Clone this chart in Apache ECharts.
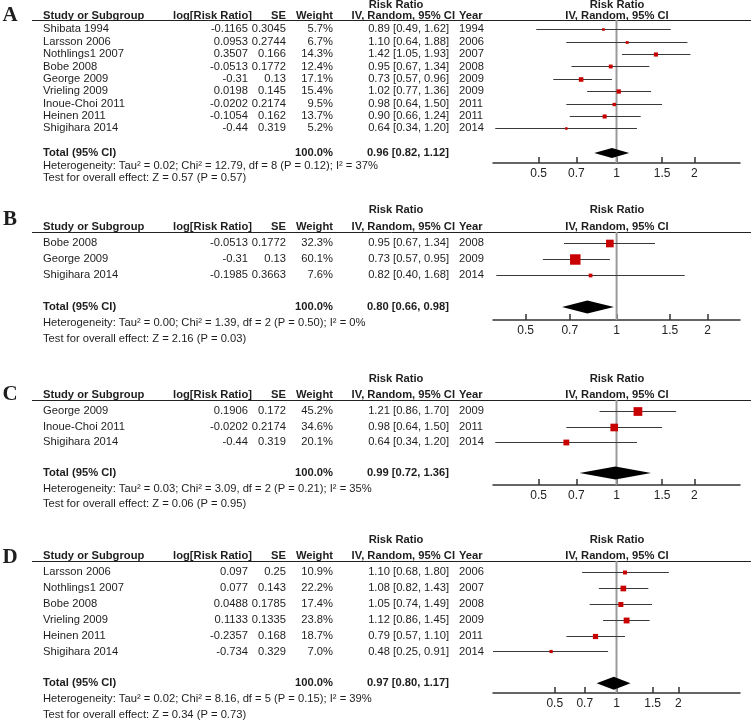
<!DOCTYPE html>
<html><head><meta charset="utf-8">
<script src="https://cdn.jsdelivr.net/npm/echarts@6/dist/echarts.min.js"></script>
<style>html,body{margin:0;padding:0;background:#fff}#c{width:751px;height:720px}</style>
</head><body><div id="c"></div>
<script>
// ---------- Panel A ----------
const studiesA = ['Shibata 1994','Larsson 2006','Nothlings1 2007','Bobe 2008','George 2009','Vrieling 2009','Inoue-Choi 2011','Heinen 2011','Shigihara 2014'];
const logRRA = [-0.1165,0.0953,0.3507,-0.0513,-0.31,0.0198,-0.0202,-0.1054,-0.44];
const seA = [0.3045,0.2744,0.166,0.1772,0.13,0.145,0.2174,0.162,0.319];
const weightA = [5.7,6.7,14.3,12.4,17.1,15.4,9.5,13.7,5.2];
const rrA = [0.89,1.10,1.42,0.95,0.73,1.02,0.98,0.90,0.64];
const loA = [0.49,0.64,1.05,0.67,0.57,0.77,0.64,0.66,0.34];
const hiA = [1.62,1.88,1.93,1.34,0.96,1.36,1.50,1.24,1.20];
const yearA = [1994,2006,2007,2008,2009,2009,2011,2011,2014];
const totalA = [0.96,0.82,1.12];
const hetA = 'Heterogeneity: Tau\u00b2 = 0.02; Chi\u00b2 = 12.79, df = 8 (P = 0.12); I\u00b2 = 37%';
const testA = 'Test for overall effect: Z = 0.57 (P = 0.57)';

// ---------- Panel B ----------
const studiesB = ['Bobe 2008','George 2009','Shigihara 2014'];
const logRRB = [-0.0513,-0.31,-0.1985];
const seB = [0.1772,0.13,0.3663];
const weightB = [32.3,60.1,7.6];
const rrB = [0.95,0.73,0.82];
const loB = [0.67,0.57,0.40];
const hiB = [1.34,0.95,1.68];
const yearB = [2008,2009,2014];
const totalB = [0.80,0.66,0.98];
const hetB = 'Heterogeneity: Tau\u00b2 = 0.00; Chi\u00b2 = 1.39, df = 2 (P = 0.50); I\u00b2 = 0%';
const testB = 'Test for overall effect: Z = 2.16 (P = 0.03)';

// ---------- Panel C ----------
const studiesC = ['George 2009','Inoue-Choi 2011','Shigihara 2014'];
const logRRC = [0.1906,-0.0202,-0.44];
const seC = [0.172,0.2174,0.319];
const weightC = [45.2,34.6,20.1];
const rrC = [1.21,0.98,0.64];
const loC = [0.86,0.64,0.34];
const hiC = [1.70,1.50,1.20];
const yearC = [2009,2011,2014];
const totalC = [0.99,0.72,1.36];
const hetC = 'Heterogeneity: Tau\u00b2 = 0.03; Chi\u00b2 = 3.09, df = 2 (P = 0.21); I\u00b2 = 35%';
const testC = 'Test for overall effect: Z = 0.06 (P = 0.95)';

// ---------- Panel D ----------
const studiesD = ['Larsson 2006','Nothlings1 2007','Bobe 2008','Vrieling 2009','Heinen 2011','Shigihara 2014'];
const logRRD = [0.097,0.077,0.0488,0.1133,-0.2357,-0.734];
const seD = [0.25,0.143,0.1785,0.1335,0.168,0.329];
const weightD = [10.9,22.2,17.4,23.8,18.7,7.0];
const rrD = [1.10,1.08,1.05,1.12,0.79,0.48];
const loD = [0.68,0.82,0.74,0.86,0.57,0.25];
const hiD = [1.80,1.43,1.49,1.45,1.10,0.91];
const yearD = [2006,2007,2008,2009,2011,2014];
const totalD = [0.97,0.80,1.17];
const hetD = 'Heterogeneity: Tau\u00b2 = 0.02; Chi\u00b2 = 8.16, df = 5 (P = 0.15); I\u00b2 = 39%';
const testD = 'Test for overall effect: Z = 0.34 (P = 0.73)';

// ---------- Axis ticks ----------
const tickVals = [0.5,0.7,1,1.5,2];
const tickLabels = ['0.5','0.7','1','1.5','2'];
const refValue = 1;

const panels = [
  {letter:'A', names:studiesA, lrr:logRRA, se:seA, w:weightA, rr:rrA, lo:loA, hi:hiA, yr:yearA, tot:totalA, het:hetA, test:testA},
  {letter:'B', names:studiesB, lrr:logRRB, se:seB, w:weightB, rr:rrB, lo:loB, hi:hiB, yr:yearB, tot:totalB, het:hetB, test:testB},
  {letter:'C', names:studiesC, lrr:logRRC, se:seC, w:weightC, rr:rrC, lo:loC, hi:hiC, yr:yearC, tot:totalC, het:hetC, test:testC},
  {letter:'D', names:studiesD, lrr:logRRD, se:seD, w:weightD, rr:rrD, lo:loD, hi:hiD, yr:yearD, tot:totalD, het:hetD, test:testD}
];
// layout (positions/sizes only)
const layout = [
  {top:20,  bottom:163, yMin:-0.75, yMax:10.8, xMin:1/3,  xMax:3,    k:1.1,  dh:5,   rrHead:15.5, studyHead:4.5, letterY:15.5},
  {top:232, bottom:320, yMin:-0.69, yMax:4.81, xMin:0.39, xMax:2.56, k:1.35, dh:6.5, rrHead:22,   studyHead:5.5, letterY:220},
  {top:400, bottom:485, yMin:-0.71, yMax:4.77, xMin:1/3,  xMax:3,    k:1.3,  dh:6.5, rrHead:21,   studyHead:5,   letterY:395},
  {top:561, bottom:693, yMin:-0.69, yMax:7.61, xMin:0.25, xMax:4,    k:1.2,  dh:6.5, rrHead:21,   studyHead:5,   letterY:557.5}
];
const PLOT_L = 493, PLOT_W = 247;
const L10 = Math.log10;
const FONT = '"Liberation Sans", Arial, sans-serif';
const TXT = '#1e1e1e';
const BODY = 11.2, HEAD = 11.2;

const chart = echarts.init(document.getElementById('c'), null, {renderer:'canvas'});

const grids = [], xAxes = [], yAxes = [], series = [];
panels.forEach((p, i) => {
  const L = layout[i];
  const n = p.names.length;
  const totalIdx = n + 1;
  grids.push({left:PLOT_L, width:PLOT_W, top:L.top, height:L.bottom - L.top});
  xAxes.push({
    type:'value', gridIndex:i, min:L10(L.xMin), max:L10(L.xMax), position:'bottom',
    splitLine:{show:false},
    axisLine:{show:true, onZero:false, lineStyle:{color:'#333', width:1.5}},
    axisTick:{show:true, inside:true, length:6, lineStyle:{color:'#333', width:1.5}, customValues:tickVals.map(L10)},
    axisLabel:{show:true, margin:5, fontSize:12, color:'#222', fontFamily:FONT, customValues:tickVals.map(L10),
      formatter:(v)=>{ const j = tickVals.findIndex(t=>Math.abs(L10(t)-v)<1e-6); return j>=0 ? tickLabels[j] : ''; }}
  });
  yAxes.push({type:'value', gridIndex:i, inverse:true, min:L.yMin, max:L.yMax, show:false});

  // reference line at RR = 1
  series.push({
    type:'custom', xAxisIndex:i, yAxisIndex:i, z:1, silent:true,
    data:[[L10(refValue)]], encode:{x:0},
    renderItem:(params, api)=>{
      const a = api.coord([api.value(0), L.yMin]);
      const b = api.coord([api.value(0), L.yMax]);
      return {type:'line', shape:{x1:a[0], y1:a[1], x2:b[0], y2:b[1]}, style:{stroke:'#9a9a9a', lineWidth:2}};
    }
  });
  // study CIs and squares
  series.push({
    type:'custom', xAxisIndex:i, yAxisIndex:i, z:3, clip:true, silent:true,
    encode:{x:[0,1,2], y:3},
    data:p.names.map((_, j)=>[L10(p.lo[j]), L10(p.hi[j]), L10(p.rr[j]), j, p.w[j]]),
    renderItem:(params, api)=>{
      const a = api.coord([api.value(0), api.value(3)]);
      const b = api.coord([api.value(1), api.value(3)]);
      const c = api.coord([api.value(2), api.value(3)]);
      const s = L.k * Math.sqrt(api.value(4));
      const y = Math.round(a[1]) + 0.5;
      return {type:'group', children:[
        {type:'line', shape:{x1:a[0], y1:y, x2:b[0], y2:y}, style:{stroke:'#3a3a3a', lineWidth:1}},
        {type:'rect', shape:{x:c[0]-s/2, y:y-s/2, width:s, height:s}, style:{fill:'#c80000'}}
      ]};
    }
  });
  // pooled diamond
  series.push({
    type:'custom', xAxisIndex:i, yAxisIndex:i, z:4, silent:true,
    encode:{x:[0,1,2], y:3},
    data:[[L10(p.tot[1]), L10(p.tot[2]), L10(p.tot[0]), totalIdx]],
    renderItem:(params, api)=>{
      const a = api.coord([api.value(0), api.value(3)]);
      const b = api.coord([api.value(1), api.value(3)]);
      const c = api.coord([api.value(2), api.value(3)]);
      return {type:'polygon', shape:{points:[[a[0],a[1]],[c[0],c[1]-L.dh],[b[0],b[1]],[c[0],c[1]+L.dh]]}, style:{fill:'#000'}};
    }
  });
});

chart.setOption({
  animation:false,
  grid:grids, xAxis:xAxes, yAxis:yAxes, series:series
});

// ---------- table text ----------
const els = [];
function txt(x, y, s, align, bold, size, fam){
  const f = (bold ? 'bold ' : '') + (size || (bold ? HEAD : BODY)) + 'px ' + (fam || FONT);
  els.push({type:'text', x:x, y:y, silent:true, style:{text:String(s), font:f, fill:TXT,
    textAlign:align, textVerticalAlign:'middle', align:align, verticalAlign:'middle'}});
}
const fmt = v => v.toFixed(2);
panels.forEach((p, i) => {
  const L = layout[i];
  const n = p.names.length;
  const rowY = idx => chart.convertToPixel({yAxisIndex:i}, idx);
  // letter
  txt(10, L.letterY, p.letter, 'center', true, 21, '"Liberation Serif", "Times New Roman", serif');
  // header
  const hy = L.top - L.studyHead, ry = L.top - L.rrHead;
  txt(396, ry, 'Risk Ratio', 'center', true);
  txt(617, ry, 'Risk Ratio', 'center', true);
  txt(43, hy, 'Study or Subgroup', 'left', true);
  txt(252, hy, 'log[Risk Ratio]', 'right', true);
  txt(286, hy, 'SE', 'right', true);
  txt(333, hy, 'Weight', 'right', true);
  txt(455, hy, 'IV, Random, 95% CI', 'right', true);
  txt(459, hy, 'Year', 'left', true);
  txt(617, hy, 'IV, Random, 95% CI', 'center', true);
  els.push({type:'line', silent:true, shape:{x1:32, y1:L.top+0.5, x2:751, y2:L.top+0.5}, style:{stroke:'#222', lineWidth:1}});
  // rows
  p.names.forEach((nm, j) => {
    const y = rowY(j);
    txt(43, y, nm, 'left');
    txt(248, y, p.lrr[j], 'right');
    txt(286, y, p.se[j], 'right');
    txt(333, y, p.w[j].toFixed(1) + '%', 'right');
    txt(449, y, fmt(p.rr[j]) + ' [' + fmt(p.lo[j]) + ', ' + fmt(p.hi[j]) + ']', 'right');
    txt(459, y, p.yr[j], 'left');
  });
  const ty = rowY(n + 1);
  txt(43, ty, 'Total (95% CI)', 'left', true);
  txt(333, ty, '100.0%', 'right', true);
  txt(449, ty, fmt(p.tot[0]) + ' [' + fmt(p.tot[1]) + ', ' + fmt(p.tot[2]) + ']', 'right', true);
  txt(43, rowY(n + 2), p.het, 'left');
  txt(43, rowY(n + 3), p.test, 'left');
});
chart.setOption({graphic:{elements:els}});
</script>
</body></html>
